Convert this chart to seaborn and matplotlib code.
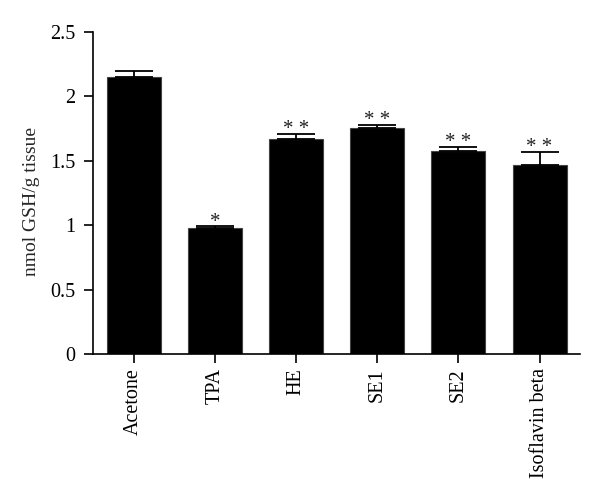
import matplotlib
matplotlib.use("Agg")
import matplotlib.pyplot as plt
import seaborn as sns
import numpy as np

categories = ["Acetone", "TPA", "HE", "SE1", "SE2", "Isoflavin beta"]
values = [2.15, 0.98, 1.67, 1.755, 1.58, 1.47]
errors = [0.05, 0.01, 0.04, 0.025, 0.03, 0.10]
marks = ["", "*", "* *", "* *", "* *", "* *"]
yticks = [0, 0.5, 1, 1.5, 2, 2.5]
ytick_labels = ["0", "0.5", "1", "1.5", "2", "2.5"]

sns.set_theme(style="white")
plt.rcParams["font.family"] = ["Liberation Serif", "DejaVu Serif"]

fig = plt.figure(figsize=(6, 4.97), dpi=100)
ax = fig.add_axes([0.155, 0.2877, 0.812, 0.6479])

sns.barplot(x=categories, y=values, color="black", width=0.667,
            edgecolor="#444444", linewidth=0.8, saturation=1, ax=ax)

xpos = np.arange(len(categories))
ax.errorbar(xpos, values, yerr=[np.zeros(len(values)), errors], fmt="none",
            ecolor="black", elinewidth=1.3, capsize=13.5, capthick=1.3)

for x, v, e, m in zip(xpos, values, errors, marks):
    if m:
        ax.text(x, v + e - 0.04, m, ha="center", va="bottom",
                fontsize=15, color="#222222")

ax.set_xlim(-0.5, 5.5)
ax.set_ylim(0, 2.5)
ax.set_yticks(yticks)
ax.set_yticklabels(ytick_labels)
ax.set_ylabel("nmol GSH/g tissue", fontsize=14)
ax.yaxis.set_label_coords(-0.108, 0.475)
ax.set_xlabel("")

for s in ["top", "right"]:
    ax.spines[s].set_visible(False)
for s in ["left", "bottom"]:
    ax.spines[s].set_color("black")
    ax.spines[s].set_linewidth(1.2)

ax.tick_params(axis="both", which="major", direction="out", length=6.5,
               width=1.2, color="black", labelsize=14.5, labelcolor="black",
               left=True, bottom=True)
ax.tick_params(axis="y", pad=6)
ax.tick_params(axis="x", labelrotation=90, pad=3.5)

fig.savefig("out.png", dpi=100, facecolor="white")
